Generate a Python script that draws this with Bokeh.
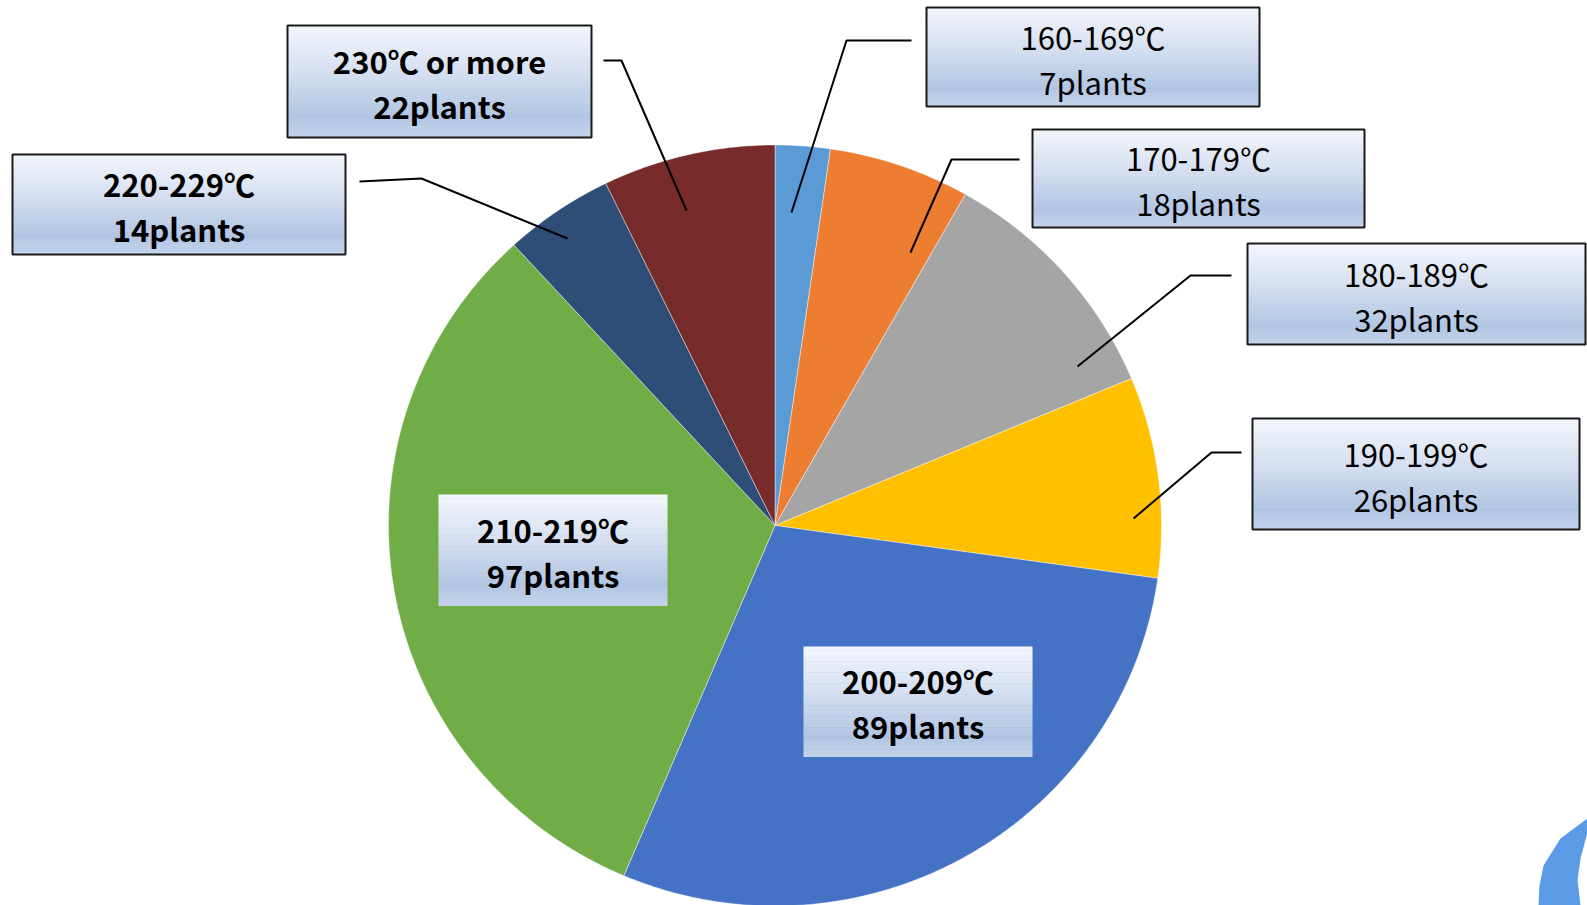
import math
from bokeh.plotting import figure
from bokeh.models import Range1d, ColumnDataSource
from bokeh.core.properties import value
from bokeh.embed import file_html
from bokeh.resources import INLINE

# ---- data ----
categories = ["160-169℃", "170-179℃", "180-189℃", "190-199℃",
              "200-209℃", "210-219℃", "220-229℃", "230℃ or more"]
plants = [7, 18, 32, 26, 89, 97, 14, 22]
colors = ["#5B9BD5", "#ED7D31", "#A5A5A5", "#FFC000",
          "#4472C4", "#70AD47", "#2E4E78", "#772B2B"]

# ---- layout (pixel coordinates, y measured from top) ----
W, H = 1587, 905
CX, CY, RX, RY = 774.5, 525, 386.5, 380.5
# label boxes: left, right, top, bottom, bordered, bold
boxes = [
    (926, 1259, 7, 106, True, False),
    (1032, 1364, 129, 227, True, False),
    (1247, 1585, 243, 344, True, False),
    (1252, 1579, 418, 529, True, False),
    (803, 1032, 646, 756, False, True),
    (438, 667, 494, 605, False, True),
    (12, 345, 154, 254, True, True),
    (287, 591, 25, 137, True, True),
]
leaders = [
    [(911, 40), (846, 40), (791, 212)],
    [(1019, 159), (951, 159), (910, 252)],
    [(1231, 275), (1190, 275), (1077, 366)],
    [(1241, 452), (1211, 452), (1133, 518)],
    None,
    None,
    [(359, 181), (421, 178), (567, 238)],
    [(603, 60), (621, 60), (686, 210)],
]


def fy(y):
    return H - y


p = figure(width=W, height=H, x_range=Range1d(0, W), y_range=Range1d(0, H),
           output_backend="svg", toolbar_location=None,
           min_border=0, min_border_left=0, min_border_right=0,
           min_border_top=0, min_border_bottom=0)
p.axis.visible = False
p.grid.visible = False
p.outline_line_color = None
p.background_fill_color = "white"
p.border_fill_color = "white"

# ---- pie (slightly elliptical, as in the source) ----
total = sum(plants)
xs, ys = [], []
cum = 0
for v in plants:
    a0 = math.pi / 2 - 2 * math.pi * cum / total
    cum += v
    a1 = math.pi / 2 - 2 * math.pi * cum / total
    n = max(4, int(abs(a1 - a0) * 120))
    px = [CX]
    py = [fy(CY)]
    for k in range(n + 1):
        a = a0 + (a1 - a0) * k / n
        px.append(CX + RX * math.cos(a))
        py.append(fy(CY) + RY * math.sin(a))
    xs.append(px)
    ys.append(py)
pie_src = ColumnDataSource(dict(xs=xs, ys=ys, color=colors,
                                cat=categories, val=plants))
p.patches(xs="xs", ys="ys", fill_color="color", line_color="white",
          line_width=0.6, line_alpha=0.7, source=pie_src)

# ---- leader lines ----
for ld in leaders:
    if ld is None:
        continue
    p.line([pt[0] for pt in ld], [fy(pt[1]) for pt in ld],
           line_color="black", line_width=2)


# ---- gradient label boxes ----
def hex2rgb(h):
    h = h.lstrip("#")
    return tuple(int(h[i:i + 2], 16) for i in (0, 2, 4))


stops = [(0.0, hex2rgb("#F4F7FC")), (0.45, hex2rgb("#D2DDEF")),
         (0.82, hex2rgb("#B1C5E3")), (1.0, hex2rgb("#C4D3EB"))]


def grad(t):
    for (t0, c0), (t1, c1) in zip(stops[:-1], stops[1:]):
        if t0 <= t <= t1:
            f = (t - t0) / (t1 - t0)
            c = [round(a + (b - a) * f) for a, b in zip(c0, c1)]
            return "#%02x%02x%02x" % tuple(c)
    return "#%02x%02x%02x" % stops[-1][1]


N = 30
ql, qr, qt, qb, qc = [], [], [], [], []
for (l, r, t, b, bord, bold) in boxes:
    hgt = b - t
    for i in range(N):
        y0 = t + hgt * i / N
        y1 = t + hgt * (i + 1) / N
        ql.append(l); qr.append(r)
        qt.append(fy(y0)); qb.append(fy(y1) - 0.5)
        qc.append(grad((i + 0.5) / N))
p.quad(left=ql, right=qr, top=qt, bottom=qb, fill_color=qc, line_color=None)

bl = [b[0] for b in boxes if b[4]]
br = [b[1] for b in boxes if b[4]]
bt = [fy(b[2]) for b in boxes if b[4]]
bb = [fy(b[3]) for b in boxes if b[4]]
p.quad(left=bl, right=br, top=bt, bottom=bb, fill_color=None,
       line_color="#1a1a1a", line_width=2)

# ---- label texts ----
for (l, r, t, b, bord, bold), cat, v in zip(boxes, categories, plants):
    cx = (l + r) / 2
    cy = (t + b) / 2
    style = "bold" if bold else "normal"
    p.text(x=[cx, cx], y=[fy(cy - 21), fy(cy + 24)],
           text=[cat, f"{v}plants"], text_align="center",
           text_baseline="middle", text_font=value("Noto Sans CJK JP"),
           text_font_size="31px", text_font_style=style, text_color="black")

# ---- decorative logo fragment (bottom right) ----
p.patch([1587, 1560, 1543, 1539, 1538, 1580, 1577, 1580, 1587],
        [fy(818), fy(838), fy(865), fy(885), fy(905), fy(905), fy(880),
         fy(858), fy(832)],
        fill_color="#5B9BE6", line_color=None)

open("out.html", "w").write(file_html(p, INLINE))
